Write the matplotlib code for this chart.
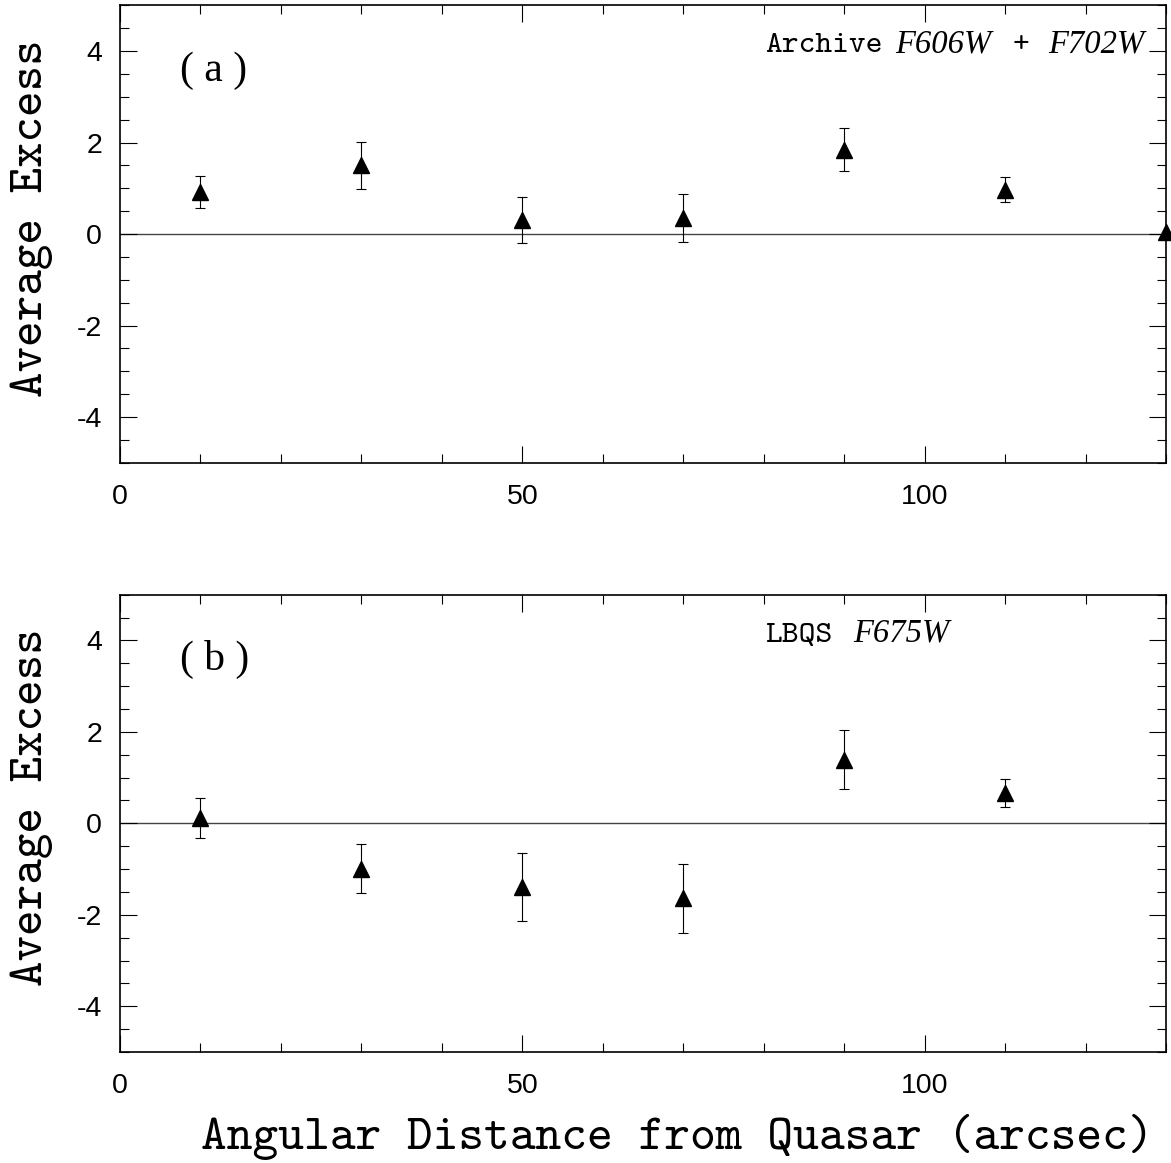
# average excess vs angular distance from quasar, two panels
# (a) archive F606W+F702W, (b) LBQS F675W

import numpy as np
import matplotlib.pyplot as plt
from matplotlib.ticker import MultipleLocator

# ---- data ----
dist_a   = [10, 30, 50, 70, 90, 110, 130]
excess_a = [0.91, 1.50, 0.31, 0.35, 1.84, 0.97, 0.05]
err_a    = [0.35, 0.52, 0.51, 0.52, 0.47, 0.27, 0.0]

dist_b   = [10, 30, 50, 70, 90, 110]
excess_b = [0.12, -0.99, -1.39, -1.64, 1.39, 0.66]
err_b    = [0.44, 0.54, 0.74, 0.75, 0.65, 0.31]

tags = ["( a )", "( b )"]
# in-panel labels: (text, italic?, x start in data units)
label_a = [("Archive", False, 80.2), ("F606W", True, 96.3),
           ("+", False, 111.0), ("F702W", True, 115.4)]
label_b = [("LBQS", False, 80.2), ("F675W", True, 91.1)]

TT = "cmtt10"            # typewriter serif, close to the original plot font
plt.rcParams["font.family"] = ["Liberation Sans", "DejaVu Sans"]
plt.rcParams["axes.unicode_minus"] = False

fig = plt.figure(figsize=(11.71, 11.63), dpi=100)
ax_a = fig.add_axes([0.1025, 0.6021, 0.8933, 0.3933])
ax_b = fig.add_axes([0.1025, 0.0954, 0.8933, 0.3933])


def draw_panel(ax, x, y, e, tag, pieces):
    x = np.asarray(x); y = np.asarray(y); e = np.asarray(e)
    ax.axhline(0, color="#444444", lw=1.0, zorder=1)
    m = e > 0
    ax.errorbar(x[m], y[m], yerr=e[m], fmt="none", ecolor="black",
                elinewidth=0.8, capsize=3.9, capthick=0.8, zorder=2)
    ax.plot(x, y, "^", color="black", ms=11, zorder=3, clip_on=False)

    ax.set_xlim(0, 130)
    ax.set_ylim(-5, 5)
    ax.xaxis.set_major_locator(MultipleLocator(50))
    ax.xaxis.set_minor_locator(MultipleLocator(10))
    ax.yaxis.set_major_locator(MultipleLocator(2))
    ax.yaxis.set_minor_locator(MultipleLocator(0.5))
    ax.tick_params(which="both", direction="in", top=True, right=True, width=0.8,
                   labelsize=20.5)
    ax.tick_params(which="major", length=12.5)
    ax.tick_params(which="minor", length=6.3)
    ax.tick_params(axis="x", which="major", pad=15)
    ax.tick_params(axis="y", which="major", pad=13)
    for s in ax.spines.values():
        s.set_linewidth(1.2)

    ax.text(7.4, 3.35, tag, family="Liberation Serif", fontsize=30,
            ha="left", va="baseline")
    for txt, ital, xs in pieces:
        if ital:
            ax.text(xs, 3.97, txt, family="Liberation Serif", style="italic",
                    fontsize=23.5, ha="left", va="baseline")
        else:
            ax.text(xs, 3.97, txt, family=TT, fontsize=23,
                    ha="left", va="baseline")

    bb = ax.get_position()
    fig.text(32 / 1171, bb.y0 + bb.height * 0.535, "Average Excess", family=TT,
             fontsize=35, rotation=90, ha="center", va="center")


draw_panel(ax_a, dist_a, excess_a, err_a, tags[0], label_a)
draw_panel(ax_b, dist_b, excess_b, err_b, tags[1], label_b)

fig.text(677 / 1171, 1 - 1149 / 1163, "Angular Distance from Quasar (arcsec)",
         family=TT, fontsize=35.3, ha="center", va="baseline")

fig.savefig("out.png", dpi=100)
